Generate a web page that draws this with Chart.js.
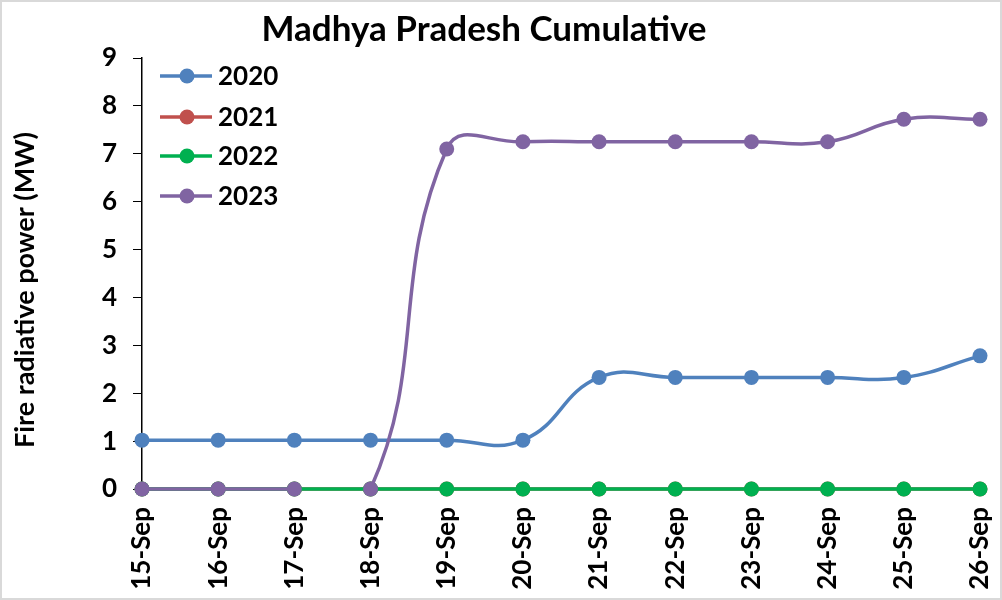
<!DOCTYPE html>
<html><head><meta charset="utf-8">
<script src="https://cdn.jsdelivr.net/npm/chart.js@4"></script>
<style>html,body{margin:0;padding:0;background:#fff}#wrap{width:1002px;height:600px;position:relative}</style>
</head><body>
<div id="wrap"><canvas id="c" width="1002" height="600"></canvas></div>
<script>
const chartTitle = 'Madhya Pradesh Cumulative';
const yAxisTitle = 'Fire radiative power (MW)';
const categories = ['15-Sep','16-Sep','17-Sep','18-Sep','19-Sep','20-Sep','21-Sep','22-Sep','23-Sep','24-Sep','25-Sep','26-Sep'];
const seriesNames = ['2020','2021','2022','2023'];
const values2020 = [1.02,1.02,1.02,1.02,1.02,1.02,2.33,2.33,2.33,2.33,2.33,2.78];
const values2021 = [0,0,0,0,0,0,0,0,0,0,0,0];
const values2022 = [0,0,0,0,0,0,0,0,0,0,0,0];
const values2023 = [0,0,0,0,7.1,7.25,7.25,7.25,7.25,7.25,7.72,7.72];
const yTicks = [0,1,2,3,4,5,6,7,8,9];

const colors = ['#4F81BD','#C0504D','#00B050','#8064A2'];
const FONT = 'Lato';

function ds(label, data, color, order, extra) {
  return Object.assign({
    label, data, borderColor: color, backgroundColor: color,
    pointBackgroundColor: color, pointBorderColor: color, pointBorderWidth: 0,
    pointRadius: 7.5, pointHoverRadius: 7.5, borderWidth: 3.5, tension: 0.45, order,
    fill: false, clip: false
  }, extra || {});
}

const customText = {
  id: 'customText',
  beforeDraw(chart) {
    const ctx = chart.ctx;
    ctx.save();
    ctx.fillStyle = '#fff';
    ctx.fillRect(0,0,chart.width,chart.height);
    ctx.restore();
  },
  afterDraw(chart) {
    const ctx = chart.ctx;
    ctx.save();
    ctx.strokeStyle = '#d9d9d9';
    ctx.lineWidth = 2;
    ctx.strokeRect(1,1,chart.width-2,chart.height-2);
    ctx.fillStyle = '#000';
    ctx.font = 'bold 35px ' + FONT;
    ctx.textAlign = 'center';
    ctx.textBaseline = 'middle';
    ctx.fillText(chartTitle, 484, 30);
    ctx.save();
    ctx.translate(25, 290);
    ctx.rotate(-Math.PI/2);
    ctx.font = 'bold 27px ' + FONT;
    ctx.fillText(yAxisTitle, 0, 0);
    ctx.restore();
    const ys = [76,117,156,196];
    chart.data.datasets.forEach((d, i) => {
      const y = ys[i];
      ctx.strokeStyle = d.borderColor;
      ctx.lineWidth = 3.5;
      ctx.beginPath(); ctx.moveTo(160,y); ctx.lineTo(212,y); ctx.stroke();
      ctx.fillStyle = d.borderColor;
      ctx.beginPath(); ctx.arc(187,y,7.5,0,Math.PI*2); ctx.fill();
      ctx.fillStyle = '#000';
      ctx.font = 'bold 26px ' + FONT;
      ctx.textAlign = 'left';
      ctx.fillText(d.label, 218, y+1);
    });
    ctx.restore();
  }
};

new Chart(document.getElementById('c'), {
  type: 'line',
  data: {
    labels: categories,
    datasets: [
      ds(seriesNames[0], values2020, colors[0], 4),
      ds(seriesNames[1], values2021, colors[1], 3),
      ds(seriesNames[2], values2022, colors[2], 2),
      ds(seriesNames[3], values2023, colors[3], 1, {
        segment: { borderColor: c => c.p0DataIndex === 2 ? 'rgba(0,0,0,0)' : colors[3] }
      })
    ]
  },
  options: {
    responsive: false,
    animation: false,
    layout: { padding: { top: 58, right: 22, left: 0, bottom: 0 } },
    plugins: { legend: { display: false }, title: { display: false }, tooltip: { enabled: false } },
    scales: {
      x: {
        afterFit: s => { s.height = 111; s.paddingRight = 0; s.paddingLeft = 0; },
        grid: { drawOnChartArea: false, drawTicks: true, tickLength: 6, color: '#000', lineWidth: 1 },
        border: { color: '#000', width: 1.5 },
        ticks: { color: '#000', font: { family: FONT, weight: 'bold', size: 26 }, maxRotation: 90, minRotation: 90, padding: 12, autoSkip: false }
      },
      y: {
        min: 0, max: 9,
        afterFit: s => { s.width = 142; s.paddingTop = 0; s.paddingBottom = 0; },
        afterBuildTicks: s => { s.ticks = yTicks.map(v => ({ value: v })); },
        grid: { drawOnChartArea: false, drawTicks: true, tickLength: 9, color: '#000', lineWidth: 1 },
        border: { color: '#000', width: 1.5 },
        ticks: { color: '#000', font: { family: FONT, weight: 'bold', size: 26 }, padding: 16 }
      }
    }
  },
  plugins: [customText]
});
</script>
</body></html>
